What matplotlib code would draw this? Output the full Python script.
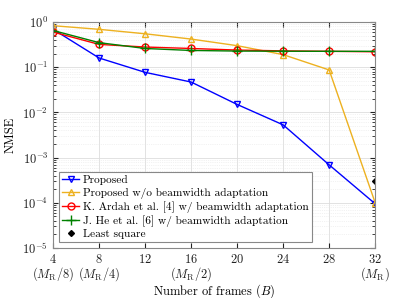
import numpy as np
import matplotlib
matplotlib.use("Agg")
import matplotlib.pyplot as plt
from matplotlib.ticker import LogLocator, NullFormatter
import matplotlib.transforms as mtransforms

plt.rcParams.update({
    "font.family": "serif",
    "font.serif": ["cmr10", "DejaVu Serif"],
    "mathtext.fontset": "cm",
    "axes.formatter.use_mathtext": True,
    "axes.unicode_minus": False,
    "font.size": 9,
})

frames = [4, 8, 12, 16, 20, 24, 28, 32]
sub_ticks = [4, 8, 16, 32]
sub_labels = ["($M_\\mathrm{R}/8$)", "($M_\\mathrm{R}/4$)",
              "($M_\\mathrm{R}/2$)", "($M_\\mathrm{R}$)"]

proposed = [0.69, 0.16, 0.077, 0.047, 0.015, 0.0053, 0.00069, 9.5e-5]
proposed_nobw = [0.83, 0.69, 0.55, 0.42, 0.30, 0.19, 0.087, 1.0e-4]
ardah = [0.60, 0.32, 0.28, 0.26, 0.24, 0.23, 0.225, 0.22]
he = [0.65, 0.35, 0.26, 0.235, 0.228, 0.226, 0.225, 0.225]
ls_x = [32]
ls_y = [3.1e-4]

fig = plt.figure(figsize=(4.15, 2.98), dpi=100)
ax = fig.add_axes([0.128, 0.168, 0.776, 0.758])

ax.plot(frames, proposed, color="#0000ff", lw=1.0, marker="v", ms=5,
        mfc="none", mew=1.0, label="Proposed")
ax.plot(frames, proposed_nobw, color="#edb120", lw=1.0, marker="^", ms=5,
        mfc="none", mew=1.0, label="Proposed w/o beamwidth adaptation")
ax.plot(frames, ardah, color="#ff0000", lw=1.0, marker="o", ms=5,
        mfc="none", mew=1.0, label="K. Ardah et al. [4] w/ beamwidth adaptation")
ax.plot(frames, he, color="#008000", lw=1.0, marker="+", ms=7,
        mew=1.0, label="J. He et al. [6] w/ beamwidth adaptation")
ax.plot(ls_x, ls_y, color="black", ls="none", marker="D", ms=3,
        label="Least square")

ax.set_yscale("log")
ax.set_xlim(4, 32)
ax.set_ylim(1e-5, 1)
ax.set_xticks(frames)
ax.yaxis.set_major_locator(LogLocator(base=10, numticks=10))
ax.yaxis.set_minor_locator(LogLocator(base=10, subs=np.arange(2, 10), numticks=10))
ax.yaxis.set_minor_formatter(NullFormatter())

# second line of x tick labels
trans = mtransforms.blended_transform_factory(ax.transData, ax.transAxes)
for x, lab in zip(sub_ticks, sub_labels):
    ax.text(x, -0.115, lab, transform=trans, ha="center", va="center",
            fontsize=9, color="#222222")

ax.grid(True, which="major", color="#dddddd", lw=0.6)
ax.grid(True, which="minor", axis="y", color="#e6e6e6", lw=0.5, ls=":")
ax.tick_params(direction="in", which="both", top=True, right=True,
               labelsize=9, colors="#222222")
ax.tick_params(which="minor", length=2)
for s in ax.spines.values():
    s.set_color("#888888")
    s.set_linewidth(0.8)

ax.set_xlabel("Number of frames ($B$)", fontsize=9)
ax.xaxis.set_label_coords(0.5, -0.15)
ax.set_ylabel("NMSE", fontsize=9)

leg = ax.legend(loc="lower left", fontsize=8.2, fancybox=False,
                framealpha=1, edgecolor="#888888", handlelength=1.5,
                handletextpad=0.3, borderpad=0.3, labelspacing=0.2,
                borderaxespad=0.5)
leg.get_frame().set_linewidth(0.8)

fig.savefig("out.png", dpi=100)
